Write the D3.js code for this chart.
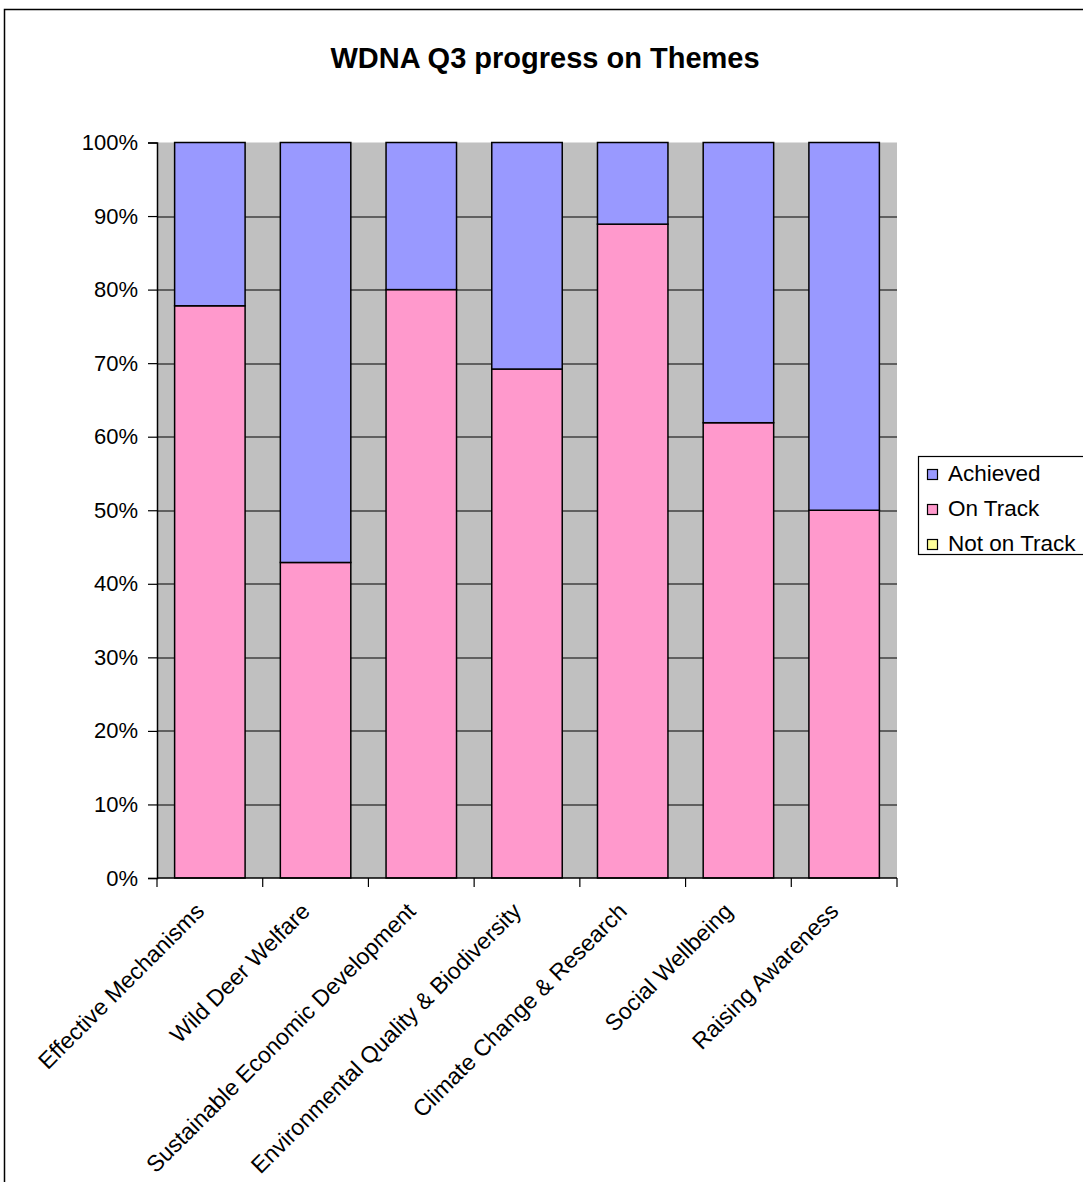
<!DOCTYPE html>
<html>
<head>
<meta charset="utf-8">
<script src="https://cdn.jsdelivr.net/npm/d3@7"></script>
<style>
  body { margin: 0; background: #fff; }
  svg { display: block; font-family: Arial, "Liberation Sans", sans-serif; }
</style>
</head>
<body>
<script>
// chart values (percent of actions per theme)
const categories = ["Effective Mechanisms", "Wild Deer Welfare", "Sustainable Economic Development",
  "Environmental Quality & Biodiversity", "Climate Change & Research", "Social Wellbeing", "Raising Awareness"]
const notOnTrack = [0, 0, 0, 0, 0, 0, 0]
const onTrack = [77.8, 42.9, 80.0, 69.2, 88.9, 61.9, 50.0]
const achieved = [22.2, 57.1, 20.0, 30.8, 11.1, 38.1, 50.0]
const yTicks = [0, 10, 20, 30, 40, 50, 60, 70, 80, 90, 100]
const seriesNames = ["Not on Track", "On Track", "Achieved"]
const colors = {"Not on Track": "#FFFF99", "On Track": "#FF99CC", "Achieved": "#9999FF"}

const W = 1083, H = 1182
const margin = {top: 142.5, left: 157, width: 740, height: 735.5}

let svg = d3.select("body").append("svg").attr("width", W).attr("height", H)

// outer chart border (runs off the right/bottom edge like the original)
svg.append("rect")
  .attr("x", 4.5).attr("y", 9.5).attr("width", W + 20).attr("height", H + 20)
  .attr("fill", "#fff").attr("stroke", "#000").attr("stroke-width", 1.5)

svg.append("text")
  .attr("x", 545).attr("y", 68)
  .attr("text-anchor", "middle")
  .attr("font-weight", "bold").attr("font-size", 29)
  .text("WDNA Q3 progress on Themes")

let rows = categories.map((c, i) => ({
  cat: c, "Not on Track": notOnTrack[i], "On Track": onTrack[i], "Achieved": achieved[i]
}))
let stacked = d3.stack().keys(seriesNames)(rows)

let x = d3.scaleBand().domain(categories).range([0, margin.width])
  .paddingInner(1 / 3).paddingOuter(1 / 6)
let y = d3.scaleLinear().domain([0, 100]).range([margin.height, 0])

let g = svg.append("g").attr("transform", "translate(" + margin.left + "," + margin.top + ")")

g.append("rect")
  .attr("width", margin.width).attr("height", margin.height)
  .attr("fill", "#C0C0C0")

// gridlines (no line at 100%)
g.selectAll(".grid").data(yTicks.filter(t => t > 0 && t < 100)).enter()
  .append("line")
  .attr("x1", 0).attr("x2", margin.width)
  .attr("y1", d => Math.round(y(d)) + 0.5).attr("y2", d => Math.round(y(d)) + 0.5)
  .attr("stroke", "#000").attr("stroke-width", 1.1)

stacked.forEach(s => {
  g.append("g").selectAll("rect").data(s.filter(d => d[1] - d[0] > 0)).enter()
    .append("rect")
    .attr("x", d => x(d.data.cat))
    .attr("y", d => y(d[1]))
    .attr("width", x.bandwidth())
    .attr("height", d => y(d[0]) - y(d[1]))
    .attr("fill", colors[s.key])
    .attr("stroke", "#000").attr("stroke-width", 1.5)
})

// y axis
let yAxis = g.append("g")
  .call(d3.axisLeft(y).tickValues(yTicks).tickFormat(d => d + "%").tickSize(9).tickPadding(10))
yAxis.select(".domain").attr("stroke", "#000").attr("stroke-width", 1.5)
yAxis.selectAll(".tick line").attr("stroke", "#000").attr("stroke-width", 1.2)
yAxis.selectAll(".tick text").attr("font-size", 22).attr("fill", "#000")
  .attr("font-family", "Arial, 'Liberation Sans', sans-serif")

// x axis: line with ticks at band boundaries
let xa = g.append("g").attr("transform", "translate(0," + margin.height + ")")
xa.append("line").attr("x1", 0).attr("x2", margin.width)
  .attr("stroke", "#000").attr("stroke-width", 1.5)
xa.selectAll(".xt").data(d3.range(categories.length + 1)).enter()
  .append("line")
  .attr("x1", i => i * x.step()).attr("x2", i => i * x.step())
  .attr("y1", 0).attr("y2", 9)
  .attr("stroke", "#000").attr("stroke-width", 1.2)

xa.selectAll(".xl").data(categories).enter()
  .append("text")
  .attr("transform", d => "translate(" + (x(d) + x.bandwidth() / 2 - 10) + ",29) rotate(-45)")
  .attr("text-anchor", "end")
  .attr("dy", "0.35em")
  .attr("font-size", 23)
  .text(d => d)

// legend
let legendKeys = ["Achieved", "On Track", "Not on Track"]
let lg = svg.append("g")
lg.append("rect")
  .attr("x", 918.5).attr("y", 456.5).attr("width", 200).attr("height", 98)
  .attr("fill", "#fff").attr("stroke", "#000").attr("stroke-width", 1.2)
legendKeys.forEach((k, i) => {
  let by = 481 + i * 35
  lg.append("rect")
    .attr("x", 927.5).attr("y", by - 11.5).attr("width", 10).attr("height", 10)
    .attr("fill", colors[k]).attr("stroke", "#000").attr("stroke-width", 1.2)
  lg.append("text")
    .attr("x", 948).attr("y", by)
    .attr("font-size", 22.5)
    .text(k)
})
</script>
</body>
</html>
